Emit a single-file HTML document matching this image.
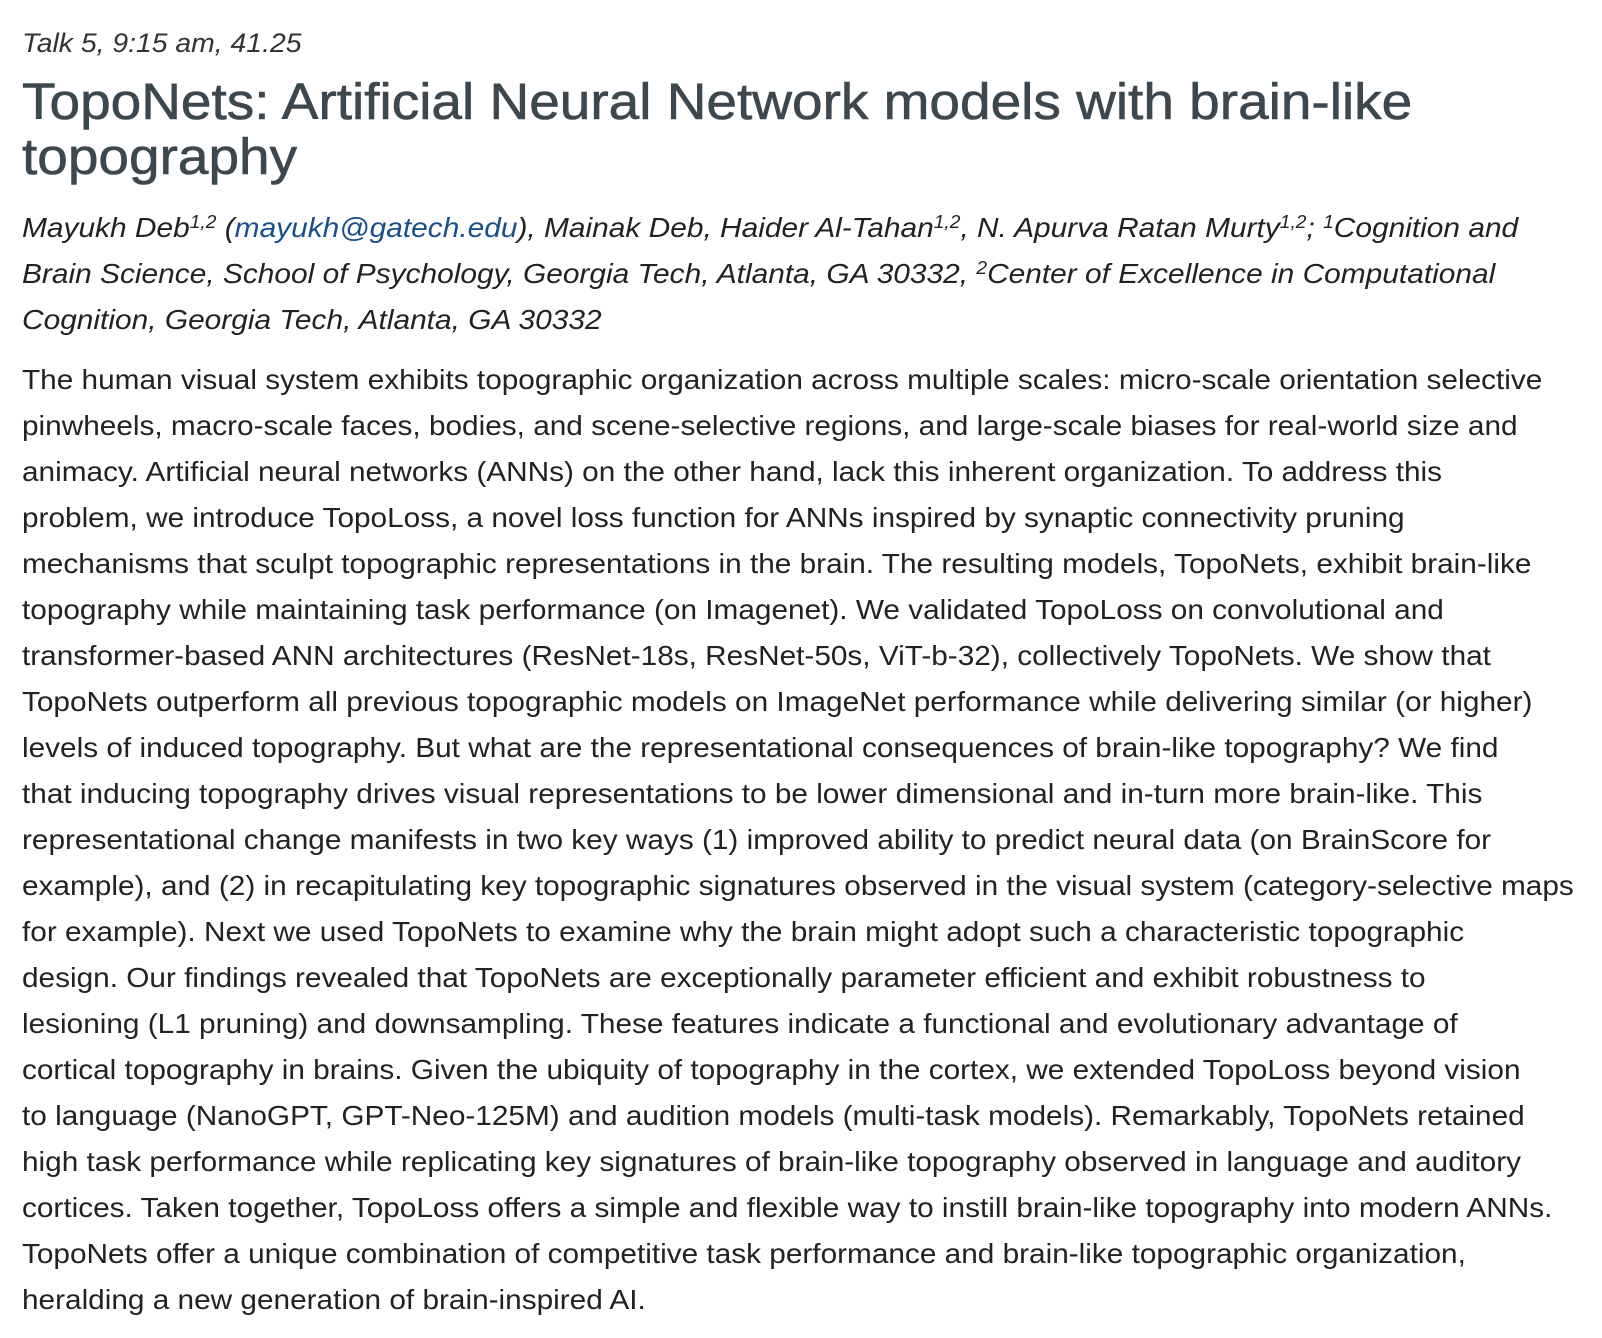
<!DOCTYPE html>
<html><head><meta charset="utf-8">
<style>
html,body{margin:0;padding:0;background:#fff;width:1602px;height:1338px;overflow:hidden}
body{font-family:"Liberation Sans",sans-serif;color:#222}
.l{position:absolute;left:22px;white-space:nowrap;transform-origin:0 0}
.talk{font-style:italic;font-size:27px;color:#333;top:28px;transform:scaleX(1.05)}
.t{font-size:51px;color:#3d474e;line-height:55px;transform:scaleX(1.078);-webkit-text-stroke:0.6px #3d474e}
.a{font-style:italic;font-size:28px;line-height:45.8px;color:#222;transform:scaleX(1.067)}
.b{font-size:28px;line-height:46px;color:#222;transform:scaleX(1.063)}
a{color:#1a4f8b;text-decoration:none}
sup{font-size:18px;line-height:0;vertical-align:9px}
</style></head><body>
<div class="l talk">Talk 5, 9:15 am, 41.25</div>
<div class="l t" style="top:74px">TopoNets: Artificial Neural Network models with brain-like<br>topography</div>
<div class="l a" style="top:205px">Mayukh Deb<sup>1,2</sup> (<a>mayukh@gatech.edu</a>), Mainak Deb, Haider Al-Tahan<sup>1,2</sup>, N. Apurva Ratan Murty<sup>1,2</sup>; <sup>1</sup>Cognition and<br>Brain Science, School of Psychology, Georgia Tech, Atlanta, GA 30332, <sup>2</sup>Center of Excellence in Computational<br>Cognition, Georgia Tech, Atlanta, GA 30332</div>
<div class="l b" style="top:357px">The human visual system exhibits topographic organization across multiple scales: micro-scale orientation selective<br>
pinwheels, macro-scale faces, bodies, and scene-selective regions, and large-scale biases for real-world size and<br>
animacy. Artificial neural networks (ANNs) on the other hand, lack this inherent organization. To address this<br>
problem, we introduce TopoLoss, a novel loss function for ANNs inspired by synaptic connectivity pruning<br>
mechanisms that sculpt topographic representations in the brain. The resulting models, TopoNets, exhibit brain-like<br>
topography while maintaining task performance (on Imagenet). We validated TopoLoss on convolutional and<br>
transformer-based ANN architectures (ResNet-18s, ResNet-50s, ViT-b-32), collectively TopoNets. We show that<br>
TopoNets outperform all previous topographic models on ImageNet performance while delivering similar (or higher)<br>
levels of induced topography. But what are the representational consequences of brain-like topography? We find<br>
that inducing topography drives visual representations to be lower dimensional and in-turn more brain-like. This<br>
representational change manifests in two key ways (1) improved ability to predict neural data (on BrainScore for<br>
example), and (2) in recapitulating key topographic signatures observed in the visual system (category-selective maps<br>
for example). Next we used TopoNets to examine why the brain might adopt such a characteristic topographic<br>
design. Our findings revealed that TopoNets are exceptionally parameter efficient and exhibit robustness to<br>
lesioning (L1 pruning) and downsampling. These features indicate a functional and evolutionary advantage of<br>
cortical topography in brains. Given the ubiquity of topography in the cortex, we extended TopoLoss beyond vision<br>
to language (NanoGPT, GPT-Neo-125M) and audition models (multi-task models). Remarkably, TopoNets retained<br>
high task performance while replicating key signatures of brain-like topography observed in language and auditory<br>
cortices. Taken together, TopoLoss offers a simple and flexible way to instill brain-like topography into modern ANNs.<br>
TopoNets offer a unique combination of competitive task performance and brain-like topographic organization,<br>
heralding a new generation of brain-inspired AI.</div>
</body></html>
